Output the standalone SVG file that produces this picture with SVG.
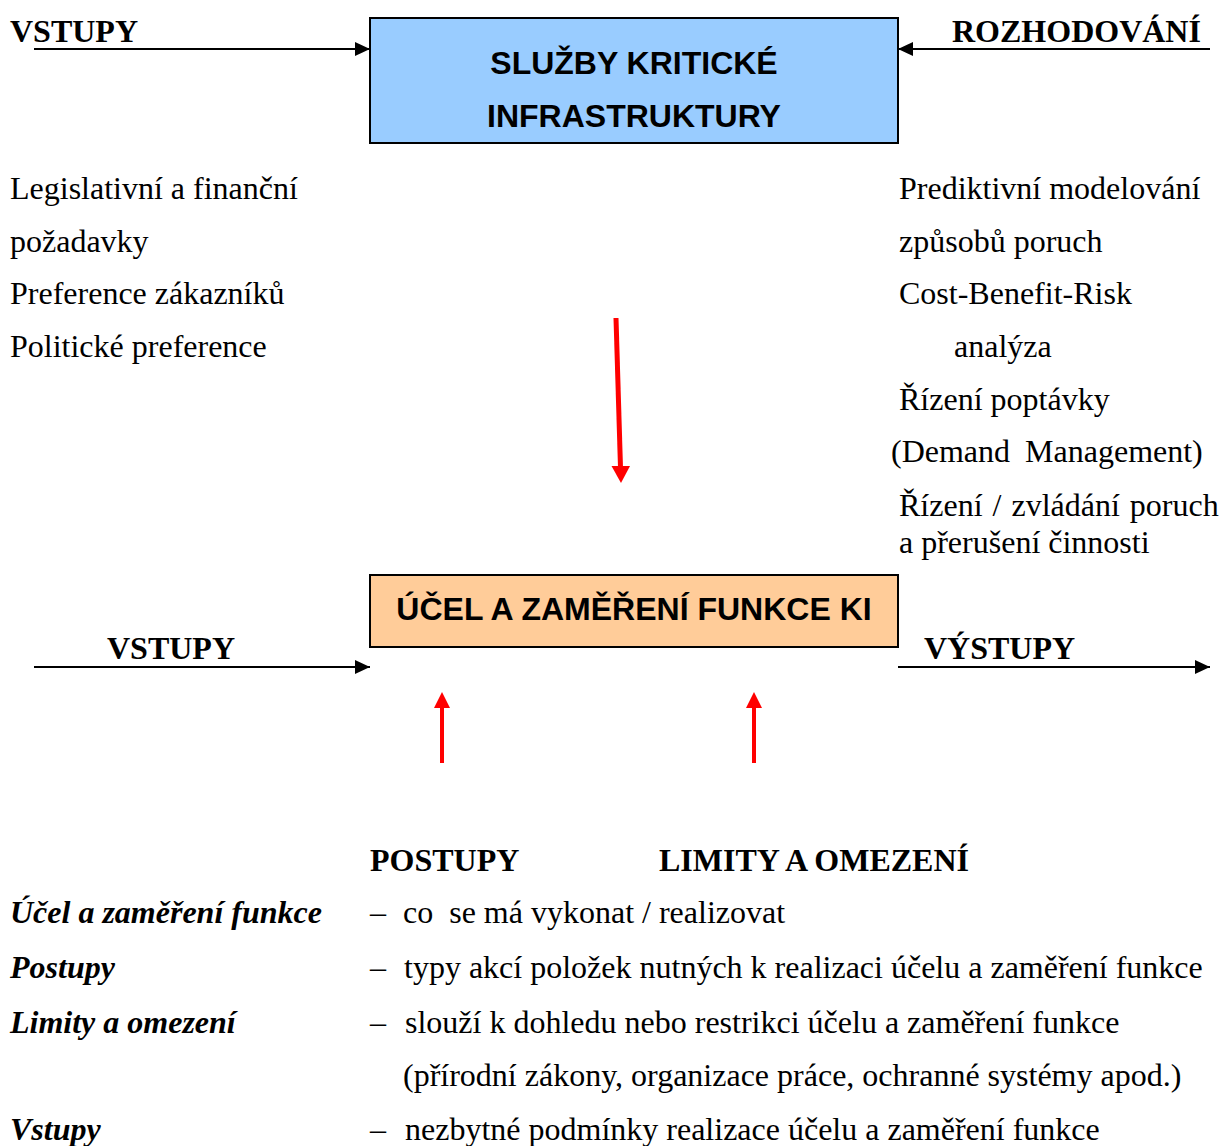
<svg xmlns="http://www.w3.org/2000/svg" width="1224" height="1146" viewBox="0 0 1224 1146">
  <style>
    .box-label { font-family: "Liberation Sans", Arial, sans-serif; font-weight: bold; font-size: 32px; fill: #000; text-anchor: middle; }
    .head { font-family: "Liberation Serif", "Times New Roman", serif; font-weight: bold; font-size: 32px; fill: #000; }
    .body { font-family: "Liberation Serif", "Times New Roman", serif; font-size: 32px; fill: #000; }
    .term { font-family: "Liberation Serif", "Times New Roman", serif; font-weight: bold; font-style: italic; font-size: 32px; fill: #000; }
    .flow { stroke: #000; stroke-width: 2; fill: none; }
    .red-line { stroke: #FF0000; fill: none; }
    .red-head { fill: #FF0000; }
  </style>
  <defs>
    <marker id="blackHead" markerUnits="userSpaceOnUse" markerWidth="16" markerHeight="14" refX="15" refY="7" orient="auto">
      <path d="M0,0 L15,7 L0,14 Z" fill="#000"/>
    </marker>
  </defs>

  <rect width="1224" height="1146" fill="#fff"/>

  <!-- main blocks -->
  <g id="node-sluzby">
    <rect x="370" y="18" width="528" height="125" fill="#99CCFF" stroke="#000" stroke-width="2"/>
    <text class="box-label" x="634" y="74">SLUŽBY KRITICKÉ</text>
    <text class="box-label" x="634" y="127">INFRASTRUKTURY</text>
  </g>

  <g id="node-ucel">
    <rect x="370" y="575" width="528" height="72" fill="#FFCC99" stroke="#000" stroke-width="2"/>
    <text class="box-label" x="634" y="620">ÚČEL A ZAMĚŘENÍ FUNKCE KI</text>
  </g>

  <!-- flow labels -->
  <g id="label-vstupy-top">
    <text class="head" x="10" y="42">VSTUPY</text>
  </g>
  <g id="label-rozhodovani">
    <text class="head" x="952" y="42">ROZHODOVÁNÍ</text>
  </g>
  <g id="label-vstupy-bottom">
    <text class="head" x="107" y="659">VSTUPY</text>
  </g>
  <g id="label-vystupy">
    <text class="head" x="924" y="659">VÝSTUPY</text>
  </g>

  <!-- left-hand requirements list -->
  <g id="list-requirements">
    <text class="body" x="10" y="199">Legislativní a finanční</text>
    <text class="body" x="10" y="252">požadavky</text>
    <text class="body" x="10" y="304">Preference zákazníků</text>
    <text class="body" x="10" y="357">Politické preference</text>
  </g>

  <!-- right-hand decision tools list -->
  <g id="list-decisions">
    <text class="body" x="899" y="199">Prediktivní modelování</text>
    <text class="body" x="899" y="252">způsobů poruch</text>
    <text class="body" x="899" y="304">Cost-Benefit-Risk</text>
    <text class="body" x="954" y="357">analýza</text>
    <text class="body" x="899" y="410">Řízení poptávky</text>
    <text class="body" x="891" y="462">(Demand<tspan dx="15">Management)</tspan></text>
    <text class="body" x="899" y="516" word-spacing="2">Řízení / zvládání poruch</text>
    <text class="body" x="899" y="553">a přerušení činnosti</text>
  </g>

  <!-- connectors -->
  <g id="connectors">
    <line class="flow" x1="34" y1="49" x2="370" y2="49" marker-end="url(#blackHead)"/>
    <line class="flow" x1="1210" y1="49" x2="898" y2="49" marker-end="url(#blackHead)"/>
    <line class="flow" x1="34" y1="667" x2="370" y2="667" marker-end="url(#blackHead)"/>
    <line class="flow" x1="898" y1="667" x2="1210" y2="667" marker-end="url(#blackHead)"/>

    <!-- red arrow down into the purpose block -->
    <line class="red-line" stroke-width="5" x1="616" y1="318" x2="620.5" y2="468"/>
    <path class="red-head" d="M611.5,466 L630,466 L621,483 Z"/>

    <!-- red arrows up from procedures and limits -->
    <line class="red-line" stroke-width="4" x1="442" y1="763" x2="442" y2="706"/>
    <path class="red-head" d="M434,708 L450,708 L442,692 Z"/>
    <line class="red-line" stroke-width="4" x1="754" y1="763" x2="754" y2="706"/>
    <path class="red-head" d="M746,708 L762,708 L754,692 Z"/>
  </g>

  <!-- bottom labels -->
  <g id="label-postupy">
    <text class="head" x="370" y="871">POSTUPY</text>
  </g>
  <g id="label-limity">
    <text class="head" x="659" y="871">LIMITY A OMEZENÍ</text>
  </g>

  <!-- glossary -->
  <g id="legend">
    <text class="term" x="10" y="923">Účel a zaměření funkce</text>
    <text class="body" x="370" y="923">–<tspan x="403">co</tspan><tspan dx="16">se má vykonat / realizovat</tspan></text>

    <text class="term" x="10" y="978">Postupy</text>
    <text class="body" x="370" y="978">–<tspan x="404">typy akcí položek nutných k realizaci účelu a zaměření funkce</tspan></text>

    <text class="term" x="10" y="1033">Limity a omezení</text>
    <text class="body" x="370" y="1033">–<tspan x="405">slouží k dohledu nebo restrikci účelu a zaměření funkce</tspan></text>
    <text class="body" x="403" y="1086">(přírodní zákony, organizace práce, ochranné systémy apod.)</text>

    <text class="term" x="10" y="1140">Vstupy</text>
    <text class="body" x="370" y="1140">–<tspan x="405">nezbytné podmínky realizace účelu a zaměření funkce</tspan></text>
  </g>
</svg>
